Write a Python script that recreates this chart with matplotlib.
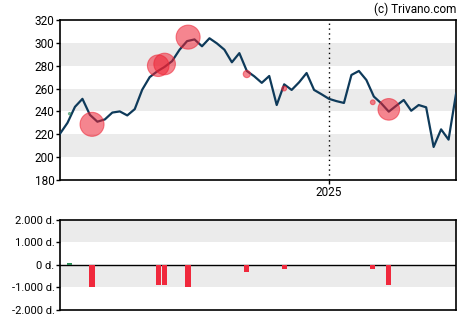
import numpy as np
import pandas as pd
import matplotlib
matplotlib.use("Agg")
import matplotlib.pyplot as plt
import matplotlib.dates as mdates

plt.rcParams['font.family'] = ['Roboto', 'DejaVu Sans']

# weekly closing prices
start = "2024-04-24"
prices = [220.5, 230, 244, 251, 237, 231, 233, 239, 240, 236.5,
          242, 259, 270, 275, 279, 284, 294, 301.5, 303, 297,
          304, 299.5, 294, 283, 291, 275.4, 270.7, 265, 271, 245.6,
          263.7, 258.8, 265.5, 273.6, 258.8, 255, 251, 249, 247.4, 271.9,
          275.4, 267.5, 253, 247, 239.8, 245, 250, 240.6, 245.6, 243.6,
          208.9, 224.3, 215.3, 255.5]

# insider trades: date, price paid, shares (thousands)
trade_dates = ["2024-05-03", "2024-05-24", "2024-07-25", "2024-07-31", "2024-08-22",
               "2024-10-16", "2024-11-20", "2025-02-11", "2025-02-26"]
trade_prices = [238, 228.7, 280, 281.5, 305, 272.7, 260, 248, 241.8]
trade_amounts = [100, -1000, -900, -900, -1000, -300, -200, -200, -900]

price_ticks = [180, 200, 220, 240, 260, 280, 300, 320]
amount_ticks = [-2000, -1000, 0, 1000, 2000]
amount_labels = ["-2.000 d.", "-1.000 d.", "0 d.", "1.000 d.", "2.000 d."]

dates = pd.date_range(start, periods=len(prices), freq="7D")
tdates = pd.to_datetime(trade_dates)
amounts = np.array(trade_amounts)

fig = plt.figure(figsize=(4.7, 3.25), dpi=100)
ax = fig.add_axes([0.1277, 0.4462, 0.8426, 0.4923])
ax2 = fig.add_axes([0.1277, 0.0462, 0.8426, 0.2769])

# price panel
for lo in (200, 240, 280):
    ax.axhspan(lo, lo + 20, color="#ebebeb", lw=0, zorder=0)
ax.axvline(pd.Timestamp("2025-01-01"), color="black", ls=(0, (1, 2.5)), lw=1, zorder=1)
ax.plot(dates, prices, color="#0e3a5a", lw=1.6, zorder=3)
radius = 12 * np.abs(amounts) / 1000 * 0.72
sizes = (2 * radius) ** 2
colors = ["#2e8b57" if a > 0 else "#ee2233" for a in amounts]
ax.scatter(tdates, trade_prices, s=sizes, c=colors, alpha=0.55, lw=0.8,
           edgecolors=colors, zorder=4)

ax.set_xlim(dates[0], dates[-1])
ax.set_ylim(180, 320)
ax.set_yticks(price_ticks)
ax.set_xticks([pd.Timestamp("2025-01-01")])
ax.xaxis.set_major_formatter(mdates.DateFormatter("%Y"))
ax.tick_params(labelsize=8.5, length=3, width=1, pad=1, colors="black")

# trade volume panel
ax2.axhspan(1000, 2000, color="#ebebeb", lw=0, zorder=0)
ax2.axhspan(-1000, 0, color="#ebebeb", lw=0, zorder=0)
ax2.axhline(0, color="black", lw=1, zorder=2)
bar_colors = ["#2e8b57" if a > 0 else "#f0283c" for a in amounts]
ax2.bar(tdates, amounts, width=5, color=bar_colors, zorder=3)
ax2.set_xlim(dates[0], dates[-1])
ax2.set_ylim(-2000, 2000)
ax2.set_yticks(amount_ticks)
ax2.set_yticklabels(amount_labels)
ax2.set_xticks([])
ax2.tick_params(labelsize=8, length=3, width=1, pad=1, colors="black")

for a in (ax, ax2):
    for sp in a.spines.values():
        sp.set_linewidth(1.2)
        sp.set_color("black")

fig.text(456 / 470, 1 - 9 / 325, "(c) Trivano.com", ha="right", va="center", fontsize=8.5)

fig.savefig("out.png", dpi=100)
